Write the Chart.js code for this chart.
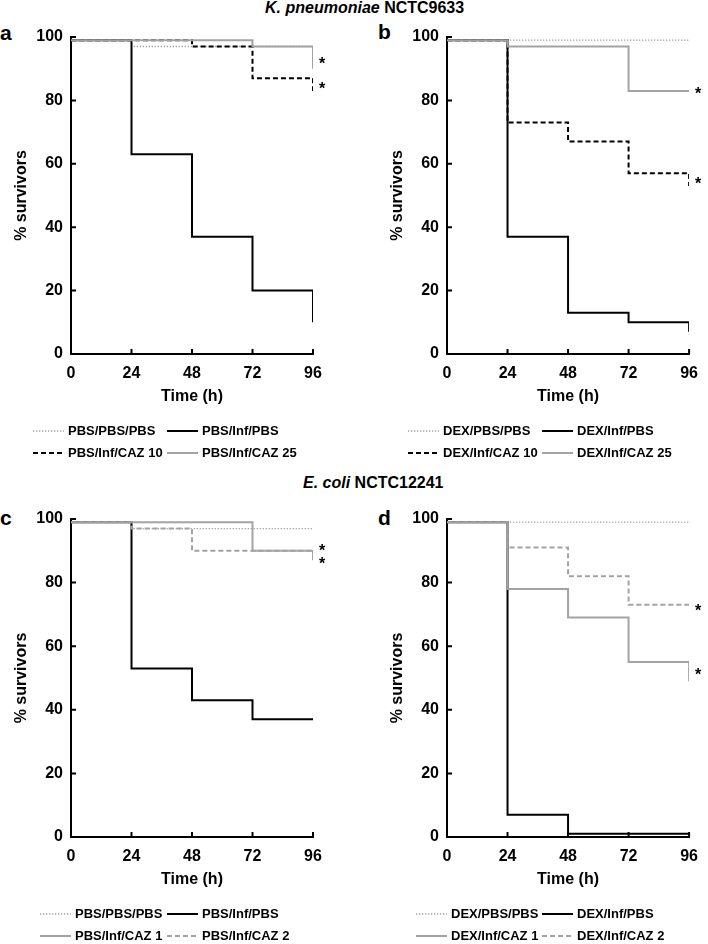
<!DOCTYPE html>
<html>
<head>
<meta charset="utf-8">
<script src="https://cdn.jsdelivr.net/npm/chart.js@4"></script>
<style>
  html, body { margin: 0; padding: 0; background: #fff; }
  body { width: 708px; height: 944px; position: relative; overflow: hidden;
         font-family: "Liberation Sans", Arial, sans-serif; color: #000; }
  canvas { position: absolute; }
  .title { position: absolute; font-weight: bold; font-size: 16px; line-height: 16px; white-space: nowrap; }
  .letter { position: absolute; font-weight: bold; font-size: 21px; line-height: 21px; }
</style>
</head>
<body>
<div class="title" style="left:265px; top:0px;"><i>K. pneumoniae</i> NCTC9633</div>
<div class="title" style="left:303px; top:475px;"><i>E. coli</i> NCTC12241</div>
<div class="letter" style="left:0px; top:22px;">a</div>
<div class="letter" style="left:378px; top:21px;">b</div>
<div class="letter" style="left:0px; top:507px;">c</div>
<div class="letter" style="left:378px; top:507px;">d</div>

<canvas id="ca" width="354" height="470" style="left:0px; top:0px;"></canvas>
<canvas id="cb" width="354" height="470" style="left:354px; top:0px;"></canvas>
<canvas id="cc" width="354" height="474" style="left:0px; top:470px;"></canvas>
<canvas id="cd" width="354" height="474" style="left:354px; top:470px;"></canvas>

<script>
// ---- tick labels / categories ----
const timeTicks = [0, 24, 48, 72, 96];
const survivorTicks = [0, 20, 40, 60, 80, 100];
const times = [0, 24, 48, 72, 96];

// ---- K. pneumoniae NCTC9633, panel a ----
const labelsA = ['PBS/PBS/PBS', 'PBS/Inf/PBS', 'PBS/Inf/CAZ 10', 'PBS/Inf/CAZ 25'];
const a_pbsPbsPbs = [99, 97, 97, 97, 97];
const a_pbsInfPbs = [99, 63, 37, 20, 10];
const a_pbsInfCaz10 = [99, 99, 97, 87, 83];
const a_pbsInfCaz25 = [99, 99, 99, 97, 90];
const starsA = [92.7, 84.9];

// ---- K. pneumoniae NCTC9633, panel b ----
const labelsB = ['DEX/PBS/PBS', 'DEX/Inf/PBS', 'DEX/Inf/CAZ 10', 'DEX/Inf/CAZ 25'];
const b_dexPbsPbs = [99, 99, 99, 99, 99];
const b_dexInfPbs = [99, 37, 13, 10, 7];
const b_dexInfCaz10 = [99, 73, 67, 57, 53];
const b_dexInfCaz25 = [99, 97, 97, 83, 83];
const starsB = [83.3, 54.9];

// ---- E. coli NCTC12241, panel c ----
const labelsC = ['PBS/PBS/PBS', 'PBS/Inf/PBS', 'PBS/Inf/CAZ 1', 'PBS/Inf/CAZ 2'];
const c_pbsPbsPbs = [99, 97, 97, 97, 97];
const c_pbsInfPbs = [99, 53, 43, 37, 37];
const c_pbsInfCaz1 = [99, 99, 99, 90, 87];
const c_pbsInfCaz2 = [99, 97, 90, 90, 90];
const starsC = [91.2, 87.1];

// ---- E. coli NCTC12241, panel d ----
const labelsD = ['DEX/PBS/PBS', 'DEX/Inf/PBS', 'DEX/Inf/CAZ 1', 'DEX/Inf/CAZ 2'];
const d_dexPbsPbs = [99, 99, 99, 99, 99];
const d_dexInfPbs = [99, 7, 1, 1, 1];
const d_dexInfCaz1 = [99, 78, 69, 55, 49];
const d_dexInfCaz2 = [99, 91, 82, 73, 73];
const starsD = [72.4, 52.0];

// ---- styles ----
const FONT = '"Liberation Sans", Arial, sans-serif';
const STYLE = {
  dotted:     { borderColor: '#a3a3a3', borderWidth: 1.3, borderDash: [1.3, 1.7], order: 4 },
  black:      { borderColor: '#000000', borderWidth: 2,   borderDash: [],         order: 3 },
  dashBlack:  { borderColor: '#000000', borderWidth: 2,   borderDash: [5, 3],     order: 2 },
  dashGray:   { borderColor: '#a3a3a3', borderWidth: 2,   borderDash: [5, 3],     order: 2 },
  gray:       { borderColor: '#a3a3a3', borderWidth: 2,   borderDash: [],         order: 1 }
};

function ds(label, values, style) {
  return Object.assign({
    label: label,
    data: times.map((t, i) => ({ x: t, y: values[i] })),
    stepped: 'before',
    pointRadius: 0,
    fill: false,
    tension: 0
  }, style);
}

const innerTicks = {
  id: 'innerTicks',
  afterDatasetsDraw(chart) {
    const { ctx, chartArea: a, scales: { x, y } } = chart;
    ctx.save();
    ctx.strokeStyle = '#000';
    ctx.lineWidth = 2;
    ctx.beginPath();
    survivorTicks.forEach(v => {
      const py = y.getPixelForValue(v);
      ctx.moveTo(a.left, py); ctx.lineTo(a.left + 5, py);
    });
    timeTicks.forEach(v => {
      if (v === timeTicks[0]) return;
      const px = x.getPixelForValue(v);
      ctx.moveTo(px, a.bottom); ctx.lineTo(px, a.bottom - 5);
    });
    ctx.stroke();
    ctx.restore();
  }
};

const stars = {
  id: 'stars',
  afterDatasetsDraw(chart, args, opts) {
    const { ctx, scales: { x, y } } = chart;
    ctx.save();
    ctx.fillStyle = '#000';
    ctx.font = 'bold 16px ' + FONT;
    ctx.textAlign = 'center';
    ctx.textBaseline = 'alphabetic';
    const px = x.getPixelForValue(timeTicks[timeTicks.length - 1]) + 9;
    (opts.values || []).forEach(v => {
      ctx.fillText('*', px, y.getPixelForValue(v) + 8.8);
    });
    ctx.restore();
  }
};

const gridLegend = {
  id: 'gridLegend',
  afterDraw(chart, args, opts) {
    const { ctx, chartArea: a } = chart;
    ctx.save();
    ctx.font = 'bold 13px ' + FONT;
    ctx.textBaseline = 'middle';
    ctx.textAlign = 'left';
    chart.data.datasets.forEach((d, i) => {
      const row = Math.floor(i / 2), col = i % 2;
      const ty = a.bottom + opts.rows[row];
      const tx = opts.cols[col];
      ctx.strokeStyle = d.borderColor;
      ctx.lineWidth = d.borderWidth;
      ctx.setLineDash(d.borderDash || []);
      ctx.beginPath();
      ctx.moveTo(tx - 35, ty); ctx.lineTo(tx - 4, ty);
      ctx.stroke();
      ctx.setLineDash([]);
      ctx.fillStyle = '#000';
      ctx.fillText(d.label, tx + 0, ty + 0.5);
    });
    ctx.restore();
  }
};

function makeChart(id, datasets, pad, legendCols, starVals) {
  return new Chart(document.getElementById(id), {
    type: 'line',
    data: { datasets: datasets },
    plugins: [innerTicks, stars, gridLegend],
    options: {
      responsive: false,
      animation: false,
      devicePixelRatio: 1,
      layout: { padding: pad },
      plugins: {
        legend: { display: false },
        tooltip: { enabled: false },
        stars: { values: starVals },
        gridLegend: { cols: legendCols, rows: [77, 99] }
      },
      scales: {
        x: {
          type: 'linear',
          min: timeTicks[0], max: timeTicks[timeTicks.length - 1],
          afterBuildTicks: s => { s.ticks = timeTicks.map(v => ({ value: v })); },
          afterFit: s => { s.height = 60; },
          grid: { display: false, drawTicks: false },
          border: { display: true, color: '#000', width: 2 },
          ticks: { color: '#000', padding: 10, maxRotation: 0, autoSkip: false,
                   font: { family: FONT, size: 16, weight: 'bold' } },
          title: { display: true, text: 'Time (h)', color: '#000',
                   padding: { top: 0, bottom: 7.4 },
                   font: { family: FONT, size: 16, weight: 'bold' } }
        },
        y: {
          type: 'linear',
          min: survivorTicks[0], max: survivorTicks[survivorTicks.length - 1],
          afterBuildTicks: s => { s.ticks = survivorTicks.map(v => ({ value: v })); },
          afterFit: s => { s.width = 71; },
          grid: { display: false, drawTicks: false },
          border: { display: true, color: '#000', width: 2 },
          ticks: { color: '#000', padding: 8, autoSkip: false,
                   font: { family: FONT, size: 16, weight: 'bold' } },
          title: { display: true, text: '% survivors', color: '#000',
                   padding: { top: 12.4, bottom: 0 },
                   font: { family: FONT, size: 16, weight: 'bold' } }
        }
      }
    }
  });
}

makeChart('ca', [
  ds(labelsA[0], a_pbsPbsPbs, STYLE.dotted),
  ds(labelsA[1], a_pbsInfPbs, STYLE.black),
  ds(labelsA[2], a_pbsInfCaz10, STYLE.dashBlack),
  ds(labelsA[3], a_pbsInfCaz25, STYLE.gray)
], { left: 0, right: 41, top: 37, bottom: 56 }, [68, 202], starsA);

makeChart('cb', [
  ds(labelsB[0], b_dexPbsPbs, STYLE.dotted),
  ds(labelsB[1], b_dexInfPbs, STYLE.black),
  ds(labelsB[2], b_dexInfCaz10, STYLE.dashBlack),
  ds(labelsB[3], b_dexInfCaz25, STYLE.gray)
], { left: 22, right: 18, top: 37, bottom: 56 }, [89, 223], starsB);

makeChart('cc', [
  ds(labelsC[0], c_pbsPbsPbs, STYLE.dotted),
  ds(labelsC[1], c_pbsInfPbs, STYLE.black),
  ds(labelsC[2], c_pbsInfCaz1, STYLE.gray),
  ds(labelsC[3], c_pbsInfCaz2, STYLE.dashGray)
], { left: 0, right: 41, top: 49, bottom: 47 }, [75, 202], starsC);

makeChart('cd', [
  ds(labelsD[0], d_dexPbsPbs, STYLE.dotted),
  ds(labelsD[1], d_dexInfPbs, STYLE.black),
  ds(labelsD[2], d_dexInfCaz1, STYLE.gray),
  ds(labelsD[3], d_dexInfCaz2, STYLE.dashGray)
], { left: 22, right: 18, top: 49, bottom: 47 }, [97, 223], starsD);
</script>
</body>
</html>
